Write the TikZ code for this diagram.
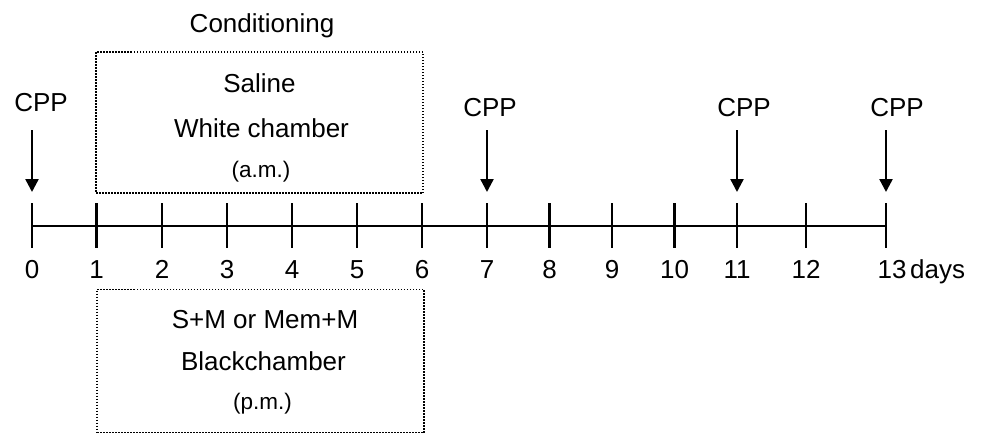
\documentclass[tikz,border=0pt]{standalone}
\usepackage{fontspec}
\setmainfont{Liberation Sans}
\usetikzlibrary{arrows.meta}
\begin{document}
\begin{tikzpicture}[x=1pt,y=-1pt,
  lbl/.style={font=\fontsize{26}{30}\selectfont, inner sep=0pt, anchor=base},
  sml/.style={font=\fontsize{22.5}{26}\selectfont, inner sep=0pt, anchor=base},
  dbox/.style={draw, line width=1.5pt, dash pattern=on 1.5pt off 1.5pt, inner sep=0pt},
  axisline/.style={line width=2.6pt},
  tickline/.style={line width=2.6pt},
  arr/.style={line width=2.4pt, -{Triangle[length=13pt,width=13pt]}}
]
\useasboundingbox (0,0) rectangle (981,434);
% ticks and labels
\foreach \i/\x in {0/32,1/96.7,2/162,3/227,4/292,5/357,6/422,7/487,8/549.5,9/612,10/674.5,11/737,12/806}{
  \coordinate (t\i) at (\x,226);
  \draw[tickline] (\x,203) -- (\x,248);
  \node[lbl] (n\i) at (\x,278) {\i};
}
\coordinate (t13) at (886,226);
\draw[tickline] (886,203) -- (886,248);
\node[lbl] (n13) at (892,278) {13};
\node[lbl, anchor=base west] (days) at (910,278) {days};
\draw[axisline] (t0) -- (t13);
% CPP labels and arrows
\node[lbl] (c0) at (41,111) {CPP};
\node[lbl] (c7) at (490,116) {CPP};
\node[lbl] (c11) at (744,116) {CPP};
\node[lbl] (c13) at (897,116) {CPP};
\foreach \i/\x in {0/32,7/487,11/737,13/886}{
  \coordinate (as\i) at (\x,130);
  \coordinate (ae\i) at (\x,192);
  \draw[arr] (as\i) -- (ae\i);
}
% boxes
\node[dbox, minimum width=327pt, minimum height=141pt] (topbox) at (259.5,122.5) {};
\node[dbox, minimum width=327pt, minimum height=143pt] (botbox) at (260.5,361) {};
\node[lbl] (cond) at (262,32) {Conditioning};
\node[lbl] (sal) at (259.5,92) {Saline};
\node[lbl] (wc) at (261.5,137) {White chamber};
\node[sml] (am) at (261,177) {(a.m.)};
\node[lbl] (sm) at (265,328) {S+M or Mem+M};
\node[lbl] (bc) at (263.5,370) {Blackchamber};
\node[sml] (pm) at (262.5,409) {(p.m.)};
\end{tikzpicture}
\end{document}
